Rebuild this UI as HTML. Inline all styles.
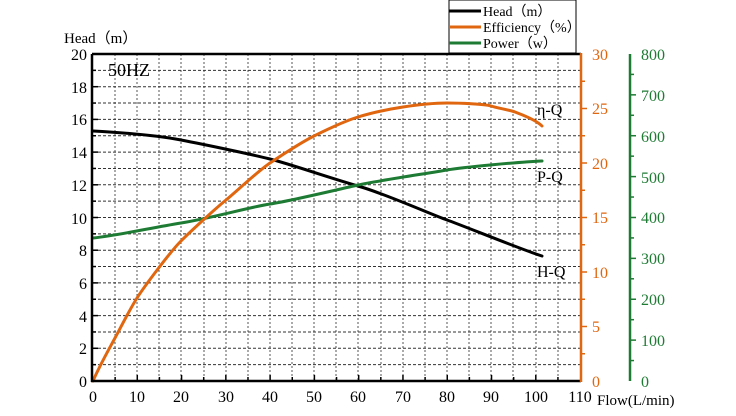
<!DOCTYPE html>
<html><head><meta charset="utf-8"><style>body{margin:0;background:#fff}svg{display:block}text{font-family:"Liberation Serif",serif}</style></head><body>
<svg width="736" height="416" xmlns="http://www.w3.org/2000/svg">
<g stroke="#555" stroke-width="1" stroke-dasharray="2,2">
<line x1="115" y1="54" x2="115" y2="381"/><line x1="137" y1="54" x2="137" y2="381"/><line x1="159" y1="54" x2="159" y2="381"/><line x1="181" y1="54" x2="181" y2="381"/><line x1="204" y1="54" x2="204" y2="381"/><line x1="226" y1="54" x2="226" y2="381"/><line x1="248" y1="54" x2="248" y2="381"/><line x1="270" y1="54" x2="270" y2="381"/><line x1="292" y1="54" x2="292" y2="381"/><line x1="314" y1="54" x2="314" y2="381"/><line x1="336" y1="54" x2="336" y2="381"/><line x1="358" y1="54" x2="358" y2="381"/><line x1="381" y1="54" x2="381" y2="381"/><line x1="403" y1="54" x2="403" y2="381"/><line x1="425" y1="54" x2="425" y2="381"/><line x1="447" y1="54" x2="447" y2="381"/><line x1="469" y1="54" x2="469" y2="381"/><line x1="491" y1="54" x2="491" y2="381"/><line x1="513" y1="54" x2="513" y2="381"/><line x1="536" y1="54" x2="536" y2="381"/><line x1="558" y1="54" x2="558" y2="381"/>
</g>
<g stroke="#333" stroke-width="1" stroke-dasharray="3,2" id="hg"></g>
<g fill="none" stroke-width="3" stroke-linecap="round" stroke-linejoin="round">
<path stroke="#000" d="M93,131 C130,133 160,136 181,140 S250,154 270,159 S330,178 358,186 S430,214 447,220 S520,249 542,256"/>
<path stroke="#1e7b34" d="M93,238 C120,235 150,228 181,223 S250,207 270,204 S340,189 358,185 S430,173 447,170 S520,162 542,161"/>
<path stroke="#e0660f" d="M93,381 C100,365 108,351 115,338 S130,309 137,298 S170,252 181,241 S215,209 226,200 S258,171 270,163 S300,143 314,136 S345,121 358,117 S390,109 403,107 S435,103 447,103 S485,104 491,106 S510,110 515,112 S535,119 542,126"/>
</g>
<g stroke="#000" stroke-width="2.5" fill="none"><line x1="92" y1="54" x2="92" y2="382"/><line x1="91" y1="381" x2="581" y2="381"/><line x1="92" y1="54" x2="581" y2="54"/></g>
<line x1="581" y1="53" x2="581" y2="382" stroke="#e0660f" stroke-width="2.5"/>
<line x1="630" y1="54" x2="630" y2="381" stroke="#1e7b34" stroke-width="2.5"/>
<g id="ticks"></g>
<text x="108" y="76" font-size="18">50HZ</text>
<text x="64" y="43" font-size="15">Head（m）</text>
<g font-size="16" text-anchor="end">
<text x="87" y="60">20</text><text x="87" y="93">18</text><text x="87" y="125">16</text><text x="87" y="158">14</text><text x="87" y="191">12</text><text x="87" y="224">10</text><text x="87" y="256">8</text><text x="87" y="289">6</text><text x="87" y="322">4</text><text x="87" y="354">2</text><text x="87" y="387">0</text>
</g>
<g font-size="16" text-anchor="middle">
<text x="93" y="402">0</text><text x="137" y="402">10</text><text x="181" y="402">20</text><text x="226" y="402">30</text><text x="270" y="402">40</text><text x="314" y="402">50</text><text x="358" y="402">60</text><text x="403" y="402">70</text><text x="447" y="402">80</text><text x="491" y="402">90</text><text x="536" y="402">100</text><text x="580" y="402">110</text>
</g>
<text x="597" y="405" font-size="15">Flow(L/min)</text>
<g font-size="16" fill="#e0660f">
<text x="592" y="60">30</text><text x="592" y="114">25</text><text x="592" y="169">20</text><text x="592" y="223">15</text><text x="592" y="278">10</text><text x="592" y="332">5</text><text x="592" y="387">0</text>
</g>
<g font-size="16" fill="#1e7b34">
<text x="641" y="60">800</text><text x="641" y="101">700</text><text x="641" y="142">600</text><text x="641" y="183">500</text><text x="641" y="223">400</text><text x="641" y="264">300</text><text x="641" y="305">200</text><text x="641" y="346">100</text><text x="641" y="387">0</text>
</g>
<g font-size="16"><text x="537" y="115">η-Q</text><text x="537" y="182">P-Q</text><text x="537" y="277">H-Q</text></g>
<rect x="449" y="0" width="127" height="53" fill="#fff" stroke="#000" stroke-width="1"/>
<g stroke-width="3"><line x1="449" y1="11" x2="481" y2="11" stroke="#000"/><line x1="449" y1="27" x2="481" y2="27" stroke="#e0660f"/><line x1="449" y1="43" x2="481" y2="43" stroke="#1e7b34"/></g>
<g font-size="14"><text x="483" y="16">Head（m）</text><text x="483" y="32">Efficiency（%）</text><text x="483" y="48">Power（w）</text></g>
<script>
var ns="http://www.w3.org/2000/svg",hg=document.getElementById("hg"),tk=document.getElementById("ticks");
function L(p,a,b,c,d,s,w){var l=document.createElementNS(ns,"line");l.setAttribute("x1",a);l.setAttribute("y1",b);l.setAttribute("x2",c);l.setAttribute("y2",d);l.setAttribute("stroke",s);l.setAttribute("stroke-width",w||1.5);p.appendChild(l);}
for(var i=1;i<20;i++){var y=381-i*16.35;L(hg,93,y,580,y,"#333",1);L(tk,92,y,i%2?96:98,y,"#000");}
for(var i=1;i<22;i++){var x=93+i*22.14;L(tk,x,381,x,i%2?377:375,"#000");}
for(var i=1;i<12;i++){var y=381-i*27.25;L(tk,581,y,i%2?585:587,y,"#e0660f");}
for(var i=1;i<16;i++){var y=381-i*20.44;L(tk,630,y,i%2?634:636,y,"#1e7b34");}
</script>
</svg>
</body></html>
